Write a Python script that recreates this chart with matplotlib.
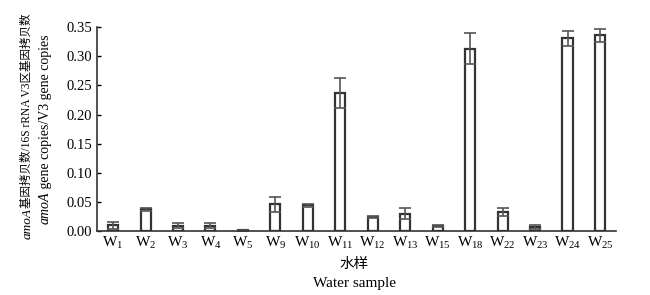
import matplotlib
matplotlib.use('Agg')
from matplotlib import pyplot as plt

# 样品名称与数值
samples = ['1', '2', '3', '4', '5', '9', '10', '11', '12', '13', '15', '18', '22', '23', '24', '25']
ratio = [0.010, 0.037, 0.009, 0.009, 0.001, 0.046, 0.044, 0.237, 0.024, 0.030,
         0.009, 0.313, 0.032, 0.007, 0.331, 0.336]
err = [0.006, 0.003, 0.004, 0.004, 0.001, 0.013, 0.002, 0.025, 0.002, 0.010,
       0.002, 0.027, 0.007, 0.003, 0.013, 0.011]
yticks = [0.00, 0.05, 0.10, 0.15, 0.20, 0.25, 0.30, 0.35]

plt.rcParams['font.family'] = ['Liberation Serif', 'Noto Sans CJK SC']
plt.rcParams['mathtext.fontset'] = 'custom'
plt.rcParams['mathtext.rm'] = 'Liberation Serif'
plt.rcParams['mathtext.it'] = 'Liberation Serif:italic'

fig = plt.figure(figsize=(6.5, 2.95), dpi=100)
ax = fig.add_axes([0.149, 0.217, 0.799, 0.691])

x = range(len(samples))
ax.bar(x, ratio, width=0.31, color='white', edgecolor='#333333', linewidth=1.6,
       yerr=err, capsize=4, error_kw={'ecolor': '#555555', 'elinewidth': 1.2, 'capthick': 1.2})

ax.set_xlim(-0.5, len(samples) - 0.5)
ax.set_ylim(0, 0.35)
ax.set_yticks(yticks)
ax.set_yticklabels([f'{v:.2f}' for v in yticks], fontsize=10.5)
ax.set_xticks(list(x))
ax.set_xticklabels([r'$\mathregular{W_{%s}}$' % s for s in samples], fontsize=11)
ax.tick_params(axis='x', length=0, pad=3)
ax.tick_params(axis='y', direction='in', length=3, width=1)

for side in ['top', 'right']:
    ax.spines[side].set_visible(False)
for side in ['left', 'bottom']:
    ax.spines[side].set_linewidth(1.2)
    ax.spines[side].set_color('#333333')

fig.text(0.545, 0.102, '水样', ha='center', va='center', fontsize=10.5)
fig.text(0.545, 0.04, 'Water sample', ha='center', va='center', fontsize=11)

# 纵轴标题：amoA 斜体，其余正体，分段拼接
t1 = fig.text(0.042, 0.19, 'amoA', style='italic', rotation=90,
              ha='center', va='bottom', fontsize=9.5)
ax.annotate('基因拷贝数/16S rRNA V3区基因拷贝数', xy=(0.5, 1), xycoords=t1,
            rotation=90, ha='center', va='bottom', fontsize=8.3)
t2 = fig.text(0.07, 0.24, 'amoA', style='italic', rotation=90,
              ha='center', va='bottom', fontsize=10)
ax.annotate(' gene copies/V3 gene copies', xy=(0.5, 1), xycoords=t2,
            rotation=90, ha='center', va='bottom', fontsize=10)

fig.savefig('out.png', dpi=100)
